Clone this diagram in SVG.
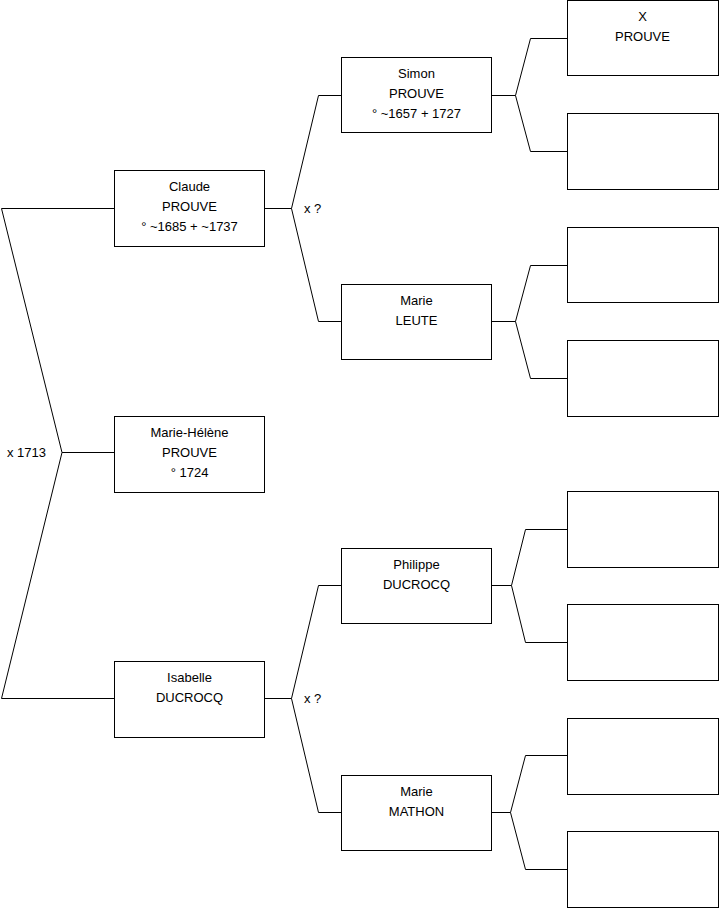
<svg xmlns="http://www.w3.org/2000/svg" width="719" height="908" viewBox="0 0 719 908">
<style>
.b{fill:#fff;stroke:#000;stroke-width:1}
.c{fill:none;stroke:#000;stroke-width:1}
text{font-family:"Liberation Sans",Arial,sans-serif;font-size:13px;fill:#000}
.m{text-anchor:middle}
</style>
<rect width="719" height="908" fill="#fff"/>
<g id="connectors">
<polyline class="c" points="114,208.5 1.5,208.5 62,452.5 1.5,698.5 114,698.5"/>
<line class="c" x1="62" y1="452.5" x2="114" y2="452.5"/>
<polyline class="c" points="341,95.5 318.5,95.5 291.5,208.5 318.5,321.5 341,321.5"/>
<line class="c" x1="265" y1="208.5" x2="291.5" y2="208.5"/>
<polyline class="c" points="341,585.5 318.5,585.5 291.5,698.5 318.5,812.5 341,812.5"/>
<line class="c" x1="265" y1="698.5" x2="291.5" y2="698.5"/>
<polyline class="c" points="567,38.5 530.5,38.5 515.5,95.5 530.5,151.5 567,151.5"/>
<line class="c" x1="492" y1="95.5" x2="515.5" y2="95.5"/>
<polyline class="c" points="567,265.5 530.5,265.5 515.5,321.5 530.5,378.5 567,378.5"/>
<line class="c" x1="492" y1="321.5" x2="515.5" y2="321.5"/>
<polyline class="c" points="567,529.5 525.5,529.5 511.5,585.5 525.5,642.5 567,642.5"/>
<line class="c" x1="492" y1="585.5" x2="511.5" y2="585.5"/>
<polyline class="c" points="567,755.5 525.5,755.5 510.5,812.5 525.5,869.5 567,869.5"/>
<line class="c" x1="492" y1="812.5" x2="510.5" y2="812.5"/>
<text x="7" y="457">x 1713</text>
<text x="304" y="213">x ?</text>
<text x="304" y="703">x ?</text>
</g>
<g id="claude"><rect class="b" x="114.5" y="170.5" width="150" height="76"/>
<text class="m" x="189.5" y="191">Claude</text><text class="m" x="189.5" y="211">PROUVE</text><text class="m" x="189.5" y="231">° ~1685 + ~1737</text></g>
<g id="mariehelene"><rect class="b" x="114.5" y="416.5" width="150" height="76"/>
<text class="m" x="189.5" y="437">Marie-Hélène</text><text class="m" x="189.5" y="457">PROUVE</text><text class="m" x="189.5" y="477">° 1724</text></g>
<g id="isabelle"><rect class="b" x="114.5" y="661.5" width="150" height="76"/>
<text class="m" x="189.5" y="682">Isabelle</text><text class="m" x="189.5" y="702">DUCROCQ</text></g>
<g id="simon"><rect class="b" x="341.5" y="57.5" width="150" height="75"/>
<text class="m" x="416.5" y="78">Simon</text><text class="m" x="416.5" y="98">PROUVE</text><text class="m" x="416.5" y="118">° ~1657 + 1727</text></g>
<g id="marieleute"><rect class="b" x="341.5" y="284.5" width="150" height="75"/>
<text class="m" x="416.5" y="305">Marie</text><text class="m" x="416.5" y="325">LEUTE</text></g>
<g id="philippe"><rect class="b" x="341.5" y="548.5" width="150" height="75"/>
<text class="m" x="416.5" y="569">Philippe</text><text class="m" x="416.5" y="589">DUCROCQ</text></g>
<g id="mariemathon"><rect class="b" x="341.5" y="775.5" width="150" height="75"/>
<text class="m" x="416.5" y="796">Marie</text><text class="m" x="416.5" y="816">MATHON</text></g>
<g id="xprouve"><rect class="b" x="567.5" y="0.5" width="151" height="75"/>
<text class="m" x="642.5" y="21">X</text><text class="m" x="642.5" y="41">PROUVE</text></g>
<g id="p2"><rect class="b" x="567.5" y="113.5" width="151" height="76"/></g>
<g id="p3"><rect class="b" x="567.5" y="227.5" width="151" height="75"/></g>
<g id="p4"><rect class="b" x="567.5" y="340.5" width="151" height="76"/></g>
<g id="p5"><rect class="b" x="567.5" y="491.5" width="151" height="76"/></g>
<g id="p6"><rect class="b" x="567.5" y="604.5" width="151" height="76"/></g>
<g id="p7"><rect class="b" x="567.5" y="718.5" width="151" height="76"/></g>
<g id="p8"><rect class="b" x="567.5" y="831.5" width="151" height="76"/></g>
</svg>
